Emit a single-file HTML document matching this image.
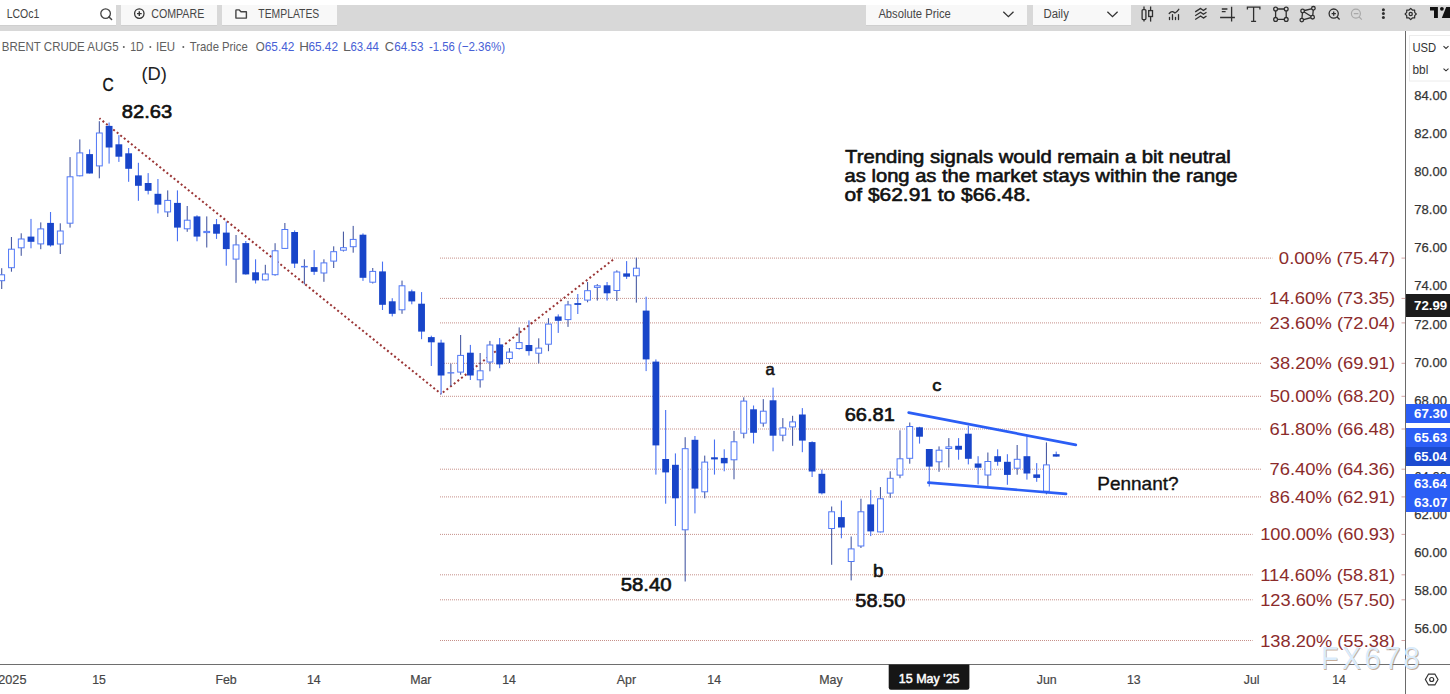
<!DOCTYPE html>
<html><head><meta charset="utf-8"><title>Brent Crude chart</title>
<style>
html,body{margin:0;padding:0;background:#fff;width:1450px;height:694px;overflow:hidden}
svg{display:block;position:absolute;left:0;top:0}
text{font-family:"Liberation Sans", sans-serif}
</style></head><body>
<svg width="1450" height="694" viewBox="0 0 1450 694">
<rect x="0" y="5" width="1450" height="26" fill="#d8d8d8"/><rect x="0" y="0" width="116" height="25" fill="#ffffff"/><rect x="121" y="5" width="96" height="20" fill="#f8f8f8"/><rect x="222" y="5" width="115" height="20" fill="#f8f8f8"/><rect x="866" y="5" width="161" height="20" fill="#f8f8f8"/><rect x="1033" y="5" width="98" height="20" fill="#f8f8f8"/><rect x="0" y="25" width="116" height="1" fill="#cfcfcf"/><rect x="121" y="25" width="96" height="1" fill="#cfcfcf"/><rect x="222" y="25" width="115" height="1" fill="#cfcfcf"/><rect x="866" y="25" width="161" height="1" fill="#cfcfcf"/><rect x="1033" y="25" width="98" height="1" fill="#cfcfcf"/><text x="6.64" y="18.00" font-size="12" fill="#444" textLength="32.67" lengthAdjust="spacingAndGlyphs">LCOc1</text><circle cx="105.6" cy="13.6" r="4.8" fill="none" stroke="#444" stroke-width="1.3"/><line x1="109" y1="17" x2="111.6" y2="19.5" stroke="#444" stroke-width="1.5" stroke-linecap="round"/><circle cx="139.3" cy="13.6" r="4.7" fill="none" stroke="#333" stroke-width="1.3"/><path d="M137 13.6H141.7M139.3 11.2V16" stroke="#333" stroke-width="1.4"/><text x="151.27" y="18.00" font-size="12" fill="#464646" textLength="52.98" lengthAdjust="spacingAndGlyphs">COMPARE</text><path d="M235.9 18.1V10.5Q235.9 9.9 236.5 9.9H239.3L241 11.7H246.2Q246.4 11.7 246.4 12.1V18.1Z" fill="none" stroke="#444" stroke-width="1.4" stroke-linejoin="round"/><text x="258.37" y="18.00" font-size="12" fill="#464646" textLength="60.90" lengthAdjust="spacingAndGlyphs">TEMPLATES</text><text x="878.38" y="18.00" font-size="12" fill="#464646" textLength="72.42" lengthAdjust="spacingAndGlyphs">Absolute Price</text><path d="M1003.3 11.8L1008.4 16.6L1013.5 11.8" fill="none" stroke="#333" stroke-width="1.3"/><text x="1043.57" y="18.00" font-size="12" fill="#464646" textLength="25.25" lengthAdjust="spacingAndGlyphs">Daily</text><path d="M1107.4 11.8L1112.5 16.6L1117.6 11.8" fill="none" stroke="#333" stroke-width="1.3"/><rect x="1142.1" y="9.6" width="3.8" height="10" rx="1" stroke-width="1.3" fill="none" stroke="#2f2f2f"/><line x1="1144" y1="6.5" x2="1144" y2="9.6" stroke-width="1.3" fill="none" stroke="#2f2f2f"/><line x1="1144" y1="19.6" x2="1144" y2="21.5" stroke-width="1.3" fill="none" stroke="#2f2f2f"/><rect x="1148.7" y="10.6" width="3.8" height="5.9" stroke-width="1.3" fill="none" stroke="#2f2f2f"/><line x1="1150.6" y1="6.5" x2="1150.6" y2="10.6" stroke-width="1.3" fill="none" stroke="#2f2f2f"/><line x1="1150.6" y1="16.5" x2="1150.6" y2="21.6" stroke-width="1.3" fill="none" stroke="#2f2f2f"/><path d="M1169.2 13.5Q1171 11.3 1172.4 11.6T1175 13Q1176.5 12.4 1178.8 9.3" stroke-width="1.3" fill="none" stroke="#2f2f2f" stroke-linecap="round"/><path d="M1169.5 17.3V19.5M1172.5 14.6V19.5M1175.5 17.3V19.5M1178.5 14.6V19.5" stroke-width="1.3" fill="none" stroke="#2f2f2f" stroke-linecap="round" stroke-width="1.4"/><path d="M1195.2 11.9L1200.6 8.4L1203.4 10.5L1206.5 8.4" stroke-width="1.3" fill="none" stroke="#2f2f2f" stroke-linejoin="round"/><path d="M1195.2 15.7L1200.6 12.2L1203.4 14.3L1206.5 12.2" stroke-width="1.3" fill="none" stroke="#2f2f2f" stroke-linejoin="round"/><path d="M1195.2 19.5L1200.6 16.0L1203.4 18.1L1206.5 16.0" stroke-width="1.3" fill="none" stroke="#2f2f2f" stroke-linejoin="round"/><path d="M1221.8 9H1227.4M1221.8 11.7H1225.6M1220.1 17.5H1234.9M1231.6 6.8V21.5" stroke-width="1.3" fill="none" stroke="#2f2f2f"/><path d="M1247.4 9.6V7.1H1259.9V9.6M1253.6 7.1V21.3M1251.1 21.3H1256.1" stroke-width="1.3" fill="none" stroke="#2f2f2f"/><path d="M1277.6 9H1284.2M1277.6 19.4H1284.2M1275.6 11V17.4M1286.2 11V17.4" stroke-width="1.3" fill="none" stroke="#2f2f2f"/><circle cx="1275.6" cy="9" r="1.9" stroke-width="1.3" fill="none" stroke="#2f2f2f"/><circle cx="1286.2" cy="9" r="1.9" stroke-width="1.3" fill="none" stroke="#2f2f2f"/><circle cx="1275.6" cy="19.4" r="1.9" stroke-width="1.3" fill="none" stroke="#2f2f2f"/><circle cx="1286.2" cy="19.4" r="1.9" stroke-width="1.3" fill="none" stroke="#2f2f2f"/><path d="M1302.6 11L1313.4 8.3L1312.6 17.2L1301.8 20.1ZM1302.6 11L1312.6 17.2" stroke-width="1.3" fill="none" stroke="#2f2f2f"/><circle cx="1302.6" cy="11" r="1.8" fill="#d8d8d8" stroke="#2f2f2f" stroke-width="1.3"/><circle cx="1313.4" cy="8.3" r="1.8" fill="#d8d8d8" stroke="#2f2f2f" stroke-width="1.3"/><circle cx="1312.6" cy="17.2" r="1.8" fill="#d8d8d8" stroke="#2f2f2f" stroke-width="1.3"/><circle cx="1301.8" cy="20.1" r="1.8" fill="#d8d8d8" stroke="#2f2f2f" stroke-width="1.3"/><circle cx="1333.7" cy="13.6" r="4.6" stroke-width="1.3" fill="none" stroke="#2f2f2f"/><path d="M1331.6 13.6H1335.9M1333.7 11.5V15.8M1337.1 17L1339.6 19.5" stroke-width="1.3" fill="none" stroke="#2f2f2f" stroke-width="1.4"/><circle cx="1355.9" cy="13.6" r="4.5" fill="none" stroke="#a9a9a9" stroke-width="1.2"/><path d="M1353.8 13.6H1358.4M1359.2 17L1361.8 19.6" fill="none" stroke="#a9a9a9" stroke-width="1.2"/><circle cx="1383.4" cy="9.7" r="1.5" fill="#2f2f2f"/><circle cx="1383.4" cy="13.6" r="1.5" fill="#2f2f2f"/><circle cx="1383.4" cy="17.6" r="1.5" fill="#2f2f2f"/><path d="M1410.70 8.40 L1412.35 10.03 L1414.66 10.04 L1414.67 12.35 L1416.30 14.00 L1414.67 15.65 L1414.66 17.96 L1412.35 17.97 L1410.70 19.60 L1409.05 17.97 L1406.74 17.96 L1406.73 15.65 L1405.10 14.00 L1406.73 12.35 L1406.74 10.04 L1409.05 10.03Z" fill="none" stroke="#2f2f2f" stroke-width="1.2" stroke-linejoin="round"/><circle cx="1410.7" cy="14" r="1.6" stroke-width="1.3" fill="none" stroke="#2f2f2f"/><path d="M1430 6.9H1437.9V17.9H1434V10.6H1430Z" fill="#111"/><circle cx="1441.9" cy="8.8" r="1.9" fill="#111"/><path d="M1441.8 17.9L1446.2 6.9H1451V17.9Z" fill="#111"/><text x="1.86" y="51.00" font-size="12.8" fill="#606060" textLength="116.82" lengthAdjust="spacingAndGlyphs">BRENT CRUDE AUG5</text><circle cx="123.8" cy="47" r="1" fill="#606060"/><text x="130.19" y="51.00" font-size="12.8" fill="#606060" textLength="13.62" lengthAdjust="spacingAndGlyphs">1D</text><circle cx="150.3" cy="47" r="1" fill="#606060"/><text x="155.94" y="51.00" font-size="12.8" fill="#606060" textLength="19.15" lengthAdjust="spacingAndGlyphs">IEU</text><circle cx="183.3" cy="47" r="1" fill="#606060"/><text x="189.85" y="51.00" font-size="12.8" fill="#606060" textLength="57.95" lengthAdjust="spacingAndGlyphs">Trade Price</text><text x="255.85" y="51.00" font-size="12.8" fill="#606060" textLength="9.00" lengthAdjust="spacingAndGlyphs">O</text><text x="264.70" y="51.00" font-size="12.8" fill="#4760d6" textLength="29.70" lengthAdjust="spacingAndGlyphs">65.42</text><text x="299.20" y="51.00" font-size="12.8" fill="#606060" textLength="9.70" lengthAdjust="spacingAndGlyphs">H</text><text x="308.40" y="51.00" font-size="12.8" fill="#4760d6" textLength="29.60" lengthAdjust="spacingAndGlyphs">65.42</text><text x="343.03" y="51.00" font-size="12.8" fill="#606060" textLength="7.95" lengthAdjust="spacingAndGlyphs">L</text><text x="350.42" y="51.00" font-size="12.8" fill="#4760d6" textLength="28.51" lengthAdjust="spacingAndGlyphs">63.44</text><text x="384.85" y="51.00" font-size="12.8" fill="#606060" textLength="9.24" lengthAdjust="spacingAndGlyphs">C</text><text x="394.21" y="51.00" font-size="12.8" fill="#4760d6" textLength="29.21" lengthAdjust="spacingAndGlyphs">64.53</text><text x="428.90" y="51.00" font-size="12.8" fill="#4760d6" textLength="25.90" lengthAdjust="spacingAndGlyphs">-1.56</text><text x="457.78" y="51.00" font-size="12.8" fill="#4760d6" textLength="47.44" lengthAdjust="spacingAndGlyphs">(−2.36%)</text><rect x="1405" y="31" width="1" height="663" fill="#6a6a6a"/><rect x="1409.5" y="35.5" width="41" height="45.5" fill="#fff" stroke="#ececec" stroke-width="1"/><text x="1412.43" y="52.00" font-size="12" fill="#333" textLength="23.70" lengthAdjust="spacingAndGlyphs">USD</text><text x="1412.54" y="74.40" font-size="12" fill="#333" textLength="15.75" lengthAdjust="spacingAndGlyphs">bbl</text><path d="M1443.5 46.2L1446 48.4L1448.5 46.2" fill="none" stroke="#333" stroke-width="1.1"/><path d="M1443.5 68.6L1446 70.8L1448.5 68.6" fill="none" stroke="#333" stroke-width="1.1"/><text x="1414.36" y="100.18" font-size="13.4" fill="#333" textLength="32.63" lengthAdjust="spacingAndGlyphs" stroke="#333" stroke-width="0.25" stroke-linejoin="round">84.00</text><text x="1414.36" y="138.24" font-size="13.4" fill="#333" textLength="32.63" lengthAdjust="spacingAndGlyphs" stroke="#333" stroke-width="0.25" stroke-linejoin="round">82.00</text><text x="1414.36" y="176.30" font-size="13.4" fill="#333" textLength="32.63" lengthAdjust="spacingAndGlyphs" stroke="#333" stroke-width="0.25" stroke-linejoin="round">80.00</text><text x="1414.25" y="214.36" font-size="13.4" fill="#333" textLength="32.73" lengthAdjust="spacingAndGlyphs" stroke="#333" stroke-width="0.25" stroke-linejoin="round">78.00</text><text x="1414.25" y="252.42" font-size="13.4" fill="#333" textLength="32.73" lengthAdjust="spacingAndGlyphs" stroke="#333" stroke-width="0.25" stroke-linejoin="round">76.00</text><text x="1414.25" y="290.48" font-size="13.4" fill="#333" textLength="32.73" lengthAdjust="spacingAndGlyphs" stroke="#333" stroke-width="0.25" stroke-linejoin="round">74.00</text><text x="1414.25" y="328.53" font-size="13.4" fill="#333" textLength="32.73" lengthAdjust="spacingAndGlyphs" stroke="#333" stroke-width="0.25" stroke-linejoin="round">72.00</text><text x="1414.25" y="366.60" font-size="13.4" fill="#333" textLength="32.73" lengthAdjust="spacingAndGlyphs" stroke="#333" stroke-width="0.25" stroke-linejoin="round">70.00</text><text x="1414.26" y="404.65" font-size="13.4" fill="#333" textLength="32.72" lengthAdjust="spacingAndGlyphs" stroke="#333" stroke-width="0.25" stroke-linejoin="round">68.00</text><text x="1414.26" y="442.72" font-size="13.4" fill="#333" textLength="32.72" lengthAdjust="spacingAndGlyphs" stroke="#333" stroke-width="0.25" stroke-linejoin="round">66.00</text><text x="1414.26" y="480.77" font-size="13.4" fill="#333" textLength="32.72" lengthAdjust="spacingAndGlyphs" stroke="#333" stroke-width="0.25" stroke-linejoin="round">64.00</text><text x="1414.26" y="518.84" font-size="13.4" fill="#333" textLength="32.72" lengthAdjust="spacingAndGlyphs" stroke="#333" stroke-width="0.25" stroke-linejoin="round">62.00</text><text x="1414.26" y="556.89" font-size="13.4" fill="#333" textLength="32.72" lengthAdjust="spacingAndGlyphs" stroke="#333" stroke-width="0.25" stroke-linejoin="round">60.00</text><text x="1414.40" y="594.96" font-size="13.4" fill="#333" textLength="32.58" lengthAdjust="spacingAndGlyphs" stroke="#333" stroke-width="0.25" stroke-linejoin="round">58.00</text><text x="1414.40" y="633.01" font-size="13.4" fill="#333" textLength="32.58" lengthAdjust="spacingAndGlyphs" stroke="#333" stroke-width="0.25" stroke-linejoin="round">56.00</text><rect x="0" y="664" width="1450" height="1" fill="#6e6e6e"/><text x="-1.74" y="683.90" font-size="13" fill="#464646" textLength="28.17" lengthAdjust="spacingAndGlyphs" stroke="#464646" stroke-width="0.2" stroke-linejoin="round">2025</text><text x="92.25" y="683.90" font-size="13" fill="#464646" textLength="13.68" lengthAdjust="spacingAndGlyphs" stroke="#464646" stroke-width="0.2" stroke-linejoin="round">15</text><text x="215.39" y="683.90" font-size="13" fill="#464646" textLength="21.32" lengthAdjust="spacingAndGlyphs" stroke="#464646" stroke-width="0.2" stroke-linejoin="round">Feb</text><text x="306.97" y="683.90" font-size="13" fill="#464646" textLength="13.68" lengthAdjust="spacingAndGlyphs" stroke="#464646" stroke-width="0.2" stroke-linejoin="round">14</text><text x="410.14" y="683.90" font-size="13" fill="#464646" textLength="21.31" lengthAdjust="spacingAndGlyphs" stroke="#464646" stroke-width="0.2" stroke-linejoin="round">Mar</text><text x="502.27" y="683.90" font-size="13" fill="#464646" textLength="13.68" lengthAdjust="spacingAndGlyphs" stroke="#464646" stroke-width="0.2" stroke-linejoin="round">14</text><text x="616.77" y="683.90" font-size="13" fill="#464646" textLength="19.25" lengthAdjust="spacingAndGlyphs" stroke="#464646" stroke-width="0.2" stroke-linejoin="round">Apr</text><text x="707.37" y="683.90" font-size="13" fill="#464646" textLength="13.68" lengthAdjust="spacingAndGlyphs" stroke="#464646" stroke-width="0.2" stroke-linejoin="round">14</text><text x="819.20" y="683.90" font-size="13" fill="#464646" textLength="23.41" lengthAdjust="spacingAndGlyphs" stroke="#464646" stroke-width="0.2" stroke-linejoin="round">May</text><text x="1036.73" y="683.90" font-size="13" fill="#464646" textLength="19.94" lengthAdjust="spacingAndGlyphs" stroke="#464646" stroke-width="0.2" stroke-linejoin="round">Jun</text><text x="1126.96" y="683.90" font-size="13" fill="#464646" textLength="13.68" lengthAdjust="spacingAndGlyphs" stroke="#464646" stroke-width="0.2" stroke-linejoin="round">13</text><text x="1243.83" y="683.90" font-size="13" fill="#464646" textLength="15.77" lengthAdjust="spacingAndGlyphs" stroke="#464646" stroke-width="0.2" stroke-linejoin="round">Jul</text><text x="1332.17" y="683.90" font-size="13" fill="#464646" textLength="13.68" lengthAdjust="spacingAndGlyphs" stroke="#464646" stroke-width="0.2" stroke-linejoin="round">14</text><text x="1278.88" y="264.10" font-size="16.5" fill="#8b2b2b" textLength="116.27" lengthAdjust="spacingAndGlyphs">0.00% (75.47)</text><text x="1268.99" y="304.40" font-size="16.5" fill="#8b2b2b" textLength="126.15" lengthAdjust="spacingAndGlyphs">14.60% (73.35)</text><text x="1269.48" y="328.90" font-size="16.5" fill="#8b2b2b" textLength="125.66" lengthAdjust="spacingAndGlyphs">23.60% (72.04)</text><text x="1269.70" y="369.30" font-size="16.5" fill="#8b2b2b" textLength="125.44" lengthAdjust="spacingAndGlyphs">38.20% (69.91)</text><text x="1269.67" y="402.30" font-size="16.5" fill="#8b2b2b" textLength="125.47" lengthAdjust="spacingAndGlyphs">50.00% (68.20)</text><text x="1269.47" y="435.00" font-size="16.5" fill="#8b2b2b" textLength="125.67" lengthAdjust="spacingAndGlyphs">61.80% (66.48)</text><text x="1269.46" y="475.20" font-size="16.5" fill="#8b2b2b" textLength="125.68" lengthAdjust="spacingAndGlyphs">76.40% (64.36)</text><text x="1269.60" y="502.90" font-size="16.5" fill="#8b2b2b" textLength="125.54" lengthAdjust="spacingAndGlyphs">86.40% (62.91)</text><text x="1260.21" y="540.40" font-size="16.5" fill="#8b2b2b" textLength="134.92" lengthAdjust="spacingAndGlyphs">100.00% (60.93)</text><text x="1260.21" y="580.80" font-size="16.5" fill="#8b2b2b" textLength="134.92" lengthAdjust="spacingAndGlyphs">114.60% (58.81)</text><text x="1260.21" y="605.80" font-size="16.5" fill="#8b2b2b" textLength="134.92" lengthAdjust="spacingAndGlyphs">123.60% (57.50)</text><text x="1260.21" y="646.50" font-size="16.5" fill="#8b2b2b" textLength="134.92" lengthAdjust="spacingAndGlyphs">138.20% (55.38)</text><text x="845.05" y="162.90" font-size="18.6" fill="#111" textLength="385.81" lengthAdjust="spacingAndGlyphs" stroke="#111" stroke-width="0.6" stroke-linejoin="round">Trending signals would remain a bit neutral</text><text x="844.64" y="181.70" font-size="18.6" fill="#111" textLength="392.95" lengthAdjust="spacingAndGlyphs" stroke="#111" stroke-width="0.6" stroke-linejoin="round">as long as the market stays within the range</text><text x="844.62" y="200.50" font-size="18.6" fill="#111" textLength="186.29" lengthAdjust="spacingAndGlyphs" stroke="#111" stroke-width="0.6" stroke-linejoin="round">of $62.91 to $66.48.</text><text x="102.39" y="90.62" font-size="18" fill="#111" textLength="11.23" lengthAdjust="spacingAndGlyphs" stroke="#111" stroke-width="0.35" stroke-linejoin="round">C</text><text x="141.46" y="80.00" font-size="18.5" fill="#222" textLength="25.48" lengthAdjust="spacingAndGlyphs">(D)</text><text x="121.83" y="118.30" font-size="18" fill="#111" textLength="50.36" lengthAdjust="spacingAndGlyphs" stroke="#111" stroke-width="0.6" stroke-linejoin="round">82.63</text><text x="765.50" y="374.60" font-size="16.5" fill="#111" textLength="9.20" lengthAdjust="spacingAndGlyphs" stroke="#111" stroke-width="0.6" stroke-linejoin="round">a</text><text x="932.32" y="391.40" font-size="16.5" fill="#111" textLength="9.16" lengthAdjust="spacingAndGlyphs" stroke="#111" stroke-width="0.6" stroke-linejoin="round">c</text><text x="844.68" y="420.50" font-size="18" fill="#111" textLength="50.09" lengthAdjust="spacingAndGlyphs" stroke="#111" stroke-width="0.6" stroke-linejoin="round">66.81</text><text x="620.68" y="591.40" font-size="18" fill="#111" textLength="51.01" lengthAdjust="spacingAndGlyphs" stroke="#111" stroke-width="0.6" stroke-linejoin="round">58.40</text><text x="872.98" y="577.00" font-size="18" fill="#111" textLength="10.51" lengthAdjust="spacingAndGlyphs" stroke="#111" stroke-width="0.6" stroke-linejoin="round">b</text><text x="855.30" y="607.30" font-size="18" fill="#111" textLength="49.98" lengthAdjust="spacingAndGlyphs" stroke="#111" stroke-width="0.6" stroke-linejoin="round">58.50</text><text x="1097.32" y="489.62" font-size="18.5" fill="#111" textLength="81.21" lengthAdjust="spacingAndGlyphs" stroke="#111" stroke-width="0.35" stroke-linejoin="round">Pennant?</text>
<g><line x1="440" y1="258.1" x2="1272.4" y2="258.1" stroke="rgba(160,70,60,0.6)" stroke-width="1" stroke-dasharray="1 1"/><line x1="440" y1="298.4" x2="1261.5" y2="298.4" stroke="rgba(160,70,60,0.6)" stroke-width="1" stroke-dasharray="1 1"/><line x1="440" y1="322.9" x2="1261.5" y2="322.9" stroke="rgba(160,70,60,0.6)" stroke-width="1" stroke-dasharray="1 1"/><line x1="440" y1="363.3" x2="1261.5" y2="363.3" stroke="rgba(160,70,60,0.6)" stroke-width="1" stroke-dasharray="1 1"/><line x1="440" y1="396.3" x2="1261.5" y2="396.3" stroke="rgba(160,70,60,0.6)" stroke-width="1" stroke-dasharray="1 1"/><line x1="440" y1="429.0" x2="1261.5" y2="429.0" stroke="rgba(160,70,60,0.6)" stroke-width="1" stroke-dasharray="1 1"/><line x1="440" y1="469.2" x2="1261.5" y2="469.2" stroke="rgba(160,70,60,0.6)" stroke-width="1" stroke-dasharray="1 1"/><line x1="440" y1="496.9" x2="1261.5" y2="496.9" stroke="rgba(160,70,60,0.6)" stroke-width="1" stroke-dasharray="1 1"/><line x1="440" y1="534.4" x2="1252.6" y2="534.4" stroke="rgba(160,70,60,0.6)" stroke-width="1" stroke-dasharray="1 1"/><line x1="440" y1="574.8" x2="1252.6" y2="574.8" stroke="rgba(160,70,60,0.6)" stroke-width="1" stroke-dasharray="1 1"/><line x1="440" y1="599.8" x2="1252.6" y2="599.8" stroke="rgba(160,70,60,0.6)" stroke-width="1" stroke-dasharray="1 1"/><line x1="440" y1="640.5" x2="1252.6" y2="640.5" stroke="rgba(160,70,60,0.6)" stroke-width="1" stroke-dasharray="1 1"/><line x1="99.4" y1="118.3" x2="441.1" y2="393.9" stroke="#9a3535" stroke-width="2" stroke-dasharray="2 2.57" stroke-dashoffset="0.51"/><line x1="441.1" y1="393.9" x2="615" y2="258.2" stroke="#9a3535" stroke-width="2" stroke-dasharray="2 2.65" stroke-dashoffset="2.45"/><rect x="1.15" y="268.2" width="1.1" height="20.8" fill="#4a5ca4"/><rect x="-1.20" y="274.8" width="5.8" height="5.9" fill="#fff" stroke="#5078f7" stroke-width="1"/><rect x="10.91" y="237.0" width="1.1" height="34.7" fill="#4a5ca4"/><rect x="8.56" y="249.2" width="5.8" height="18.5" fill="#fff" stroke="#5078f7" stroke-width="1"/><rect x="20.68" y="233.3" width="1.1" height="22.5" fill="#4a5ca4"/><rect x="18.33" y="239.0" width="5.8" height="8.8" fill="#fff" stroke="#5078f7" stroke-width="1"/><rect x="30.44" y="218.9" width="1.1" height="29.4" fill="#4a72f2"/><rect x="27.59" y="236.6" width="6.8" height="5.2" fill="#1845c9"/><rect x="40.21" y="222.4" width="1.1" height="26.8" fill="#4a5ca4"/><rect x="37.86" y="228.9" width="5.8" height="15.0" fill="#fff" stroke="#5078f7" stroke-width="1"/><rect x="49.97" y="212.0" width="1.1" height="34.6" fill="#4a72f2"/><rect x="47.12" y="222.9" width="6.8" height="22.5" fill="#1845c9"/><rect x="59.73" y="223.3" width="1.1" height="30.7" fill="#4a5ca4"/><rect x="57.38" y="231.0" width="5.8" height="13.0" fill="#fff" stroke="#5078f7" stroke-width="1"/><rect x="69.50" y="157.1" width="1.1" height="70.5" fill="#4a5ca4"/><rect x="67.15" y="176.8" width="5.8" height="46.4" fill="#fff" stroke="#5078f7" stroke-width="1"/><rect x="79.26" y="139.4" width="1.1" height="36.9" fill="#4a5ca4"/><rect x="76.91" y="152.9" width="5.8" height="22.9" fill="#fff" stroke="#5078f7" stroke-width="1"/><rect x="89.03" y="149.4" width="1.1" height="24.1" fill="#4a72f2"/><rect x="86.18" y="154.1" width="6.8" height="19.4" fill="#1845c9"/><rect x="98.79" y="121.2" width="1.1" height="57.1" fill="#4a5ca4"/><rect x="96.44" y="133.0" width="5.8" height="32.9" fill="#fff" stroke="#5078f7" stroke-width="1"/><rect x="108.55" y="122.5" width="1.1" height="41.1" fill="#4a72f2"/><rect x="105.70" y="125.9" width="6.8" height="21.6" fill="#1845c9"/><rect x="118.32" y="135.1" width="1.1" height="26.8" fill="#4a72f2"/><rect x="115.47" y="144.3" width="6.8" height="12.4" fill="#1845c9"/><rect x="128.08" y="148.0" width="1.1" height="33.8" fill="#4a72f2"/><rect x="125.23" y="153.3" width="6.8" height="15.5" fill="#1845c9"/><rect x="137.85" y="162.8" width="1.1" height="38.0" fill="#4a72f2"/><rect x="135.00" y="175.4" width="6.8" height="10.4" fill="#1845c9"/><rect x="147.61" y="173.1" width="1.1" height="21.3" fill="#4a72f2"/><rect x="144.76" y="183.0" width="6.8" height="7.8" fill="#1845c9"/><rect x="157.37" y="179.0" width="1.1" height="34.4" fill="#4a72f2"/><rect x="154.52" y="193.8" width="6.8" height="10.9" fill="#1845c9"/><rect x="167.14" y="190.4" width="1.1" height="26.6" fill="#4a5ca4"/><rect x="164.79" y="200.4" width="5.8" height="11.5" fill="#fff" stroke="#5078f7" stroke-width="1"/><rect x="176.90" y="190.4" width="1.1" height="50.9" fill="#4a72f2"/><rect x="174.05" y="202.9" width="6.8" height="24.7" fill="#1845c9"/><rect x="186.67" y="206.0" width="1.1" height="25.8" fill="#4a5ca4"/><rect x="184.32" y="220.2" width="5.8" height="8.6" fill="#fff" stroke="#5078f7" stroke-width="1"/><rect x="196.43" y="215.3" width="1.1" height="26.0" fill="#4a72f2"/><rect x="193.58" y="216.4" width="6.8" height="20.2" fill="#1845c9"/><rect x="206.19" y="216.4" width="1.1" height="31.1" fill="#4a5ca4"/><rect x="203.84" y="231.4" width="5.8" height="1.2" fill="#fff" stroke="#5078f7" stroke-width="1"/><rect x="215.96" y="219.0" width="1.1" height="19.9" fill="#4a72f2"/><rect x="213.11" y="224.2" width="6.8" height="9.5" fill="#1845c9"/><rect x="225.72" y="221.6" width="1.1" height="44.1" fill="#4a72f2"/><rect x="222.87" y="232.6" width="6.8" height="16.5" fill="#1845c9"/><rect x="235.49" y="235.0" width="1.1" height="47.8" fill="#4a5ca4"/><rect x="233.14" y="244.9" width="5.8" height="14.2" fill="#fff" stroke="#5078f7" stroke-width="1"/><rect x="245.25" y="241.0" width="1.1" height="33.6" fill="#4a72f2"/><rect x="242.40" y="243.1" width="6.8" height="31.3" fill="#1845c9"/><rect x="255.01" y="259.3" width="1.1" height="24.2" fill="#4a72f2"/><rect x="252.16" y="272.3" width="6.8" height="8.1" fill="#1845c9"/><rect x="264.78" y="264.8" width="1.1" height="15.6" fill="#4a5ca4"/><rect x="262.43" y="274.0" width="5.8" height="5.9" fill="#fff" stroke="#5078f7" stroke-width="1"/><rect x="274.54" y="243.2" width="1.1" height="32.5" fill="#4a5ca4"/><rect x="272.19" y="250.8" width="5.8" height="23.9" fill="#fff" stroke="#5078f7" stroke-width="1"/><rect x="284.31" y="223.0" width="1.1" height="25.9" fill="#4a5ca4"/><rect x="281.96" y="229.5" width="5.8" height="18.9" fill="#fff" stroke="#5078f7" stroke-width="1"/><rect x="294.07" y="230.4" width="1.1" height="37.6" fill="#4a72f2"/><rect x="291.22" y="232.0" width="6.8" height="31.6" fill="#1845c9"/><rect x="303.83" y="259.3" width="1.1" height="25.1" fill="#4a5ca4"/><rect x="301.48" y="266.4" width="5.8" height="0.5" fill="#fff" stroke="#5078f7" stroke-width="1"/><rect x="313.60" y="250.1" width="1.1" height="24.8" fill="#4a72f2"/><rect x="310.75" y="267.1" width="6.8" height="4.7" fill="#1845c9"/><rect x="323.36" y="259.3" width="1.1" height="22.5" fill="#4a5ca4"/><rect x="321.01" y="262.9" width="5.8" height="10.1" fill="#fff" stroke="#5078f7" stroke-width="1"/><rect x="333.13" y="246.3" width="1.1" height="21.7" fill="#4a5ca4"/><rect x="330.78" y="251.7" width="5.8" height="9.4" fill="#fff" stroke="#5078f7" stroke-width="1"/><rect x="342.89" y="231.6" width="1.1" height="19.9" fill="#4a5ca4"/><rect x="340.54" y="247.7" width="5.8" height="2.5" fill="#fff" stroke="#5078f7" stroke-width="1"/><rect x="352.65" y="225.9" width="1.1" height="26.8" fill="#4a5ca4"/><rect x="350.30" y="239.4" width="5.8" height="7.3" fill="#fff" stroke="#5078f7" stroke-width="1"/><rect x="362.42" y="233.4" width="1.1" height="47.5" fill="#4a72f2"/><rect x="359.57" y="234.7" width="6.8" height="43.1" fill="#1845c9"/><rect x="372.18" y="268.0" width="1.1" height="15.5" fill="#4a5ca4"/><rect x="369.83" y="271.4" width="5.8" height="10.8" fill="#fff" stroke="#5078f7" stroke-width="1"/><rect x="381.95" y="261.6" width="1.1" height="48.4" fill="#4a72f2"/><rect x="379.10" y="271.4" width="6.8" height="33.4" fill="#1845c9"/><rect x="391.71" y="298.2" width="1.1" height="18.2" fill="#4a72f2"/><rect x="388.86" y="301.3" width="6.8" height="12.5" fill="#1845c9"/><rect x="401.47" y="280.6" width="1.1" height="33.2" fill="#4a5ca4"/><rect x="399.12" y="285.8" width="5.8" height="24.0" fill="#fff" stroke="#5078f7" stroke-width="1"/><rect x="411.24" y="289.6" width="1.1" height="14.7" fill="#4a72f2"/><rect x="408.39" y="291.3" width="6.8" height="10.1" fill="#1845c9"/><rect x="421.00" y="292.1" width="1.1" height="47.1" fill="#4a72f2"/><rect x="418.15" y="303.7" width="6.8" height="27.9" fill="#1845c9"/><rect x="430.77" y="335.7" width="1.1" height="30.3" fill="#4a72f2"/><rect x="427.92" y="337.1" width="6.8" height="5.2" fill="#1845c9"/><rect x="440.53" y="339.7" width="1.1" height="54.8" fill="#4a72f2"/><rect x="437.68" y="342.6" width="6.8" height="32.9" fill="#1845c9"/><rect x="450.29" y="363.6" width="1.1" height="22.3" fill="#4a5ca4"/><rect x="447.94" y="372.7" width="5.8" height="0.3" fill="#fff" stroke="#5078f7" stroke-width="1"/><rect x="460.06" y="335.0" width="1.1" height="39.8" fill="#4a5ca4"/><rect x="457.71" y="355.4" width="5.8" height="16.7" fill="#fff" stroke="#5078f7" stroke-width="1"/><rect x="469.82" y="344.9" width="1.1" height="35.1" fill="#4a72f2"/><rect x="466.97" y="352.7" width="6.8" height="22.8" fill="#1845c9"/><rect x="479.59" y="353.0" width="1.1" height="34.6" fill="#4a5ca4"/><rect x="477.24" y="370.8" width="5.8" height="9.0" fill="#fff" stroke="#5078f7" stroke-width="1"/><rect x="489.35" y="340.9" width="1.1" height="30.4" fill="#4a5ca4"/><rect x="487.00" y="345.0" width="5.8" height="17.0" fill="#fff" stroke="#5078f7" stroke-width="1"/><rect x="499.11" y="338.0" width="1.1" height="30.2" fill="#4a72f2"/><rect x="496.26" y="344.4" width="6.8" height="20.0" fill="#1845c9"/><rect x="508.88" y="348.1" width="1.1" height="14.9" fill="#4a5ca4"/><rect x="506.53" y="352.1" width="5.8" height="6.4" fill="#fff" stroke="#5078f7" stroke-width="1"/><rect x="518.64" y="327.4" width="1.1" height="22.1" fill="#4a5ca4"/><rect x="516.29" y="342.6" width="5.8" height="5.9" fill="#fff" stroke="#5078f7" stroke-width="1"/><rect x="528.41" y="320.4" width="1.1" height="35.2" fill="#4a72f2"/><rect x="525.56" y="345.0" width="6.8" height="6.1" fill="#1845c9"/><rect x="538.17" y="338.3" width="1.1" height="25.2" fill="#4a5ca4"/><rect x="535.82" y="348.1" width="5.8" height="5.1" fill="#fff" stroke="#5078f7" stroke-width="1"/><rect x="547.93" y="318.2" width="1.1" height="33.0" fill="#4a5ca4"/><rect x="545.58" y="324.1" width="5.8" height="20.1" fill="#fff" stroke="#5078f7" stroke-width="1"/><rect x="557.70" y="314.4" width="1.1" height="18.5" fill="#4a72f2"/><rect x="554.85" y="316.5" width="6.8" height="4.3" fill="#1845c9"/><rect x="567.46" y="300.9" width="1.1" height="26.0" fill="#4a5ca4"/><rect x="565.11" y="304.9" width="5.8" height="14.7" fill="#fff" stroke="#5078f7" stroke-width="1"/><rect x="577.23" y="294.0" width="1.1" height="20.0" fill="#4a72f2"/><rect x="574.38" y="303.1" width="6.8" height="1.8" fill="#1845c9"/><rect x="586.99" y="282.0" width="1.1" height="20.3" fill="#4a5ca4"/><rect x="584.64" y="290.7" width="5.8" height="9.4" fill="#fff" stroke="#5078f7" stroke-width="1"/><rect x="596.75" y="284.1" width="1.1" height="16.5" fill="#4a5ca4"/><rect x="594.40" y="285.8" width="5.8" height="1.6" fill="#fff" stroke="#5078f7" stroke-width="1"/><rect x="606.52" y="282.0" width="1.1" height="18.6" fill="#4a72f2"/><rect x="603.67" y="285.3" width="6.8" height="8.0" fill="#1845c9"/><rect x="616.28" y="270.3" width="1.1" height="30.6" fill="#4a5ca4"/><rect x="613.93" y="272.0" width="5.8" height="18.5" fill="#fff" stroke="#5078f7" stroke-width="1"/><rect x="626.05" y="261.1" width="1.1" height="17.8" fill="#4a72f2"/><rect x="623.20" y="273.4" width="6.8" height="3.3" fill="#1845c9"/><rect x="635.81" y="257.6" width="1.1" height="45.0" fill="#4a5ca4"/><rect x="633.46" y="268.2" width="5.8" height="7.6" fill="#fff" stroke="#5078f7" stroke-width="1"/><rect x="645.57" y="296.7" width="1.1" height="74.4" fill="#4a72f2"/><rect x="642.72" y="310.6" width="6.8" height="48.8" fill="#1845c9"/><rect x="655.34" y="359.4" width="1.1" height="115.2" fill="#4a72f2"/><rect x="652.49" y="361.6" width="6.8" height="83.8" fill="#1845c9"/><rect x="665.10" y="410.0" width="1.1" height="93.7" fill="#4a72f2"/><rect x="662.25" y="459.0" width="6.8" height="13.4" fill="#1845c9"/><rect x="674.87" y="453.4" width="1.1" height="72.6" fill="#4a72f2"/><rect x="672.02" y="464.8" width="6.8" height="33.5" fill="#1845c9"/><rect x="684.63" y="437.2" width="1.1" height="144.3" fill="#4a5ca4"/><rect x="682.28" y="448.7" width="5.8" height="81.1" fill="#fff" stroke="#5078f7" stroke-width="1"/><rect x="694.39" y="436.0" width="1.1" height="77.4" fill="#4a72f2"/><rect x="691.54" y="439.8" width="6.8" height="48.8" fill="#1845c9"/><rect x="704.16" y="455.6" width="1.1" height="42.7" fill="#4a5ca4"/><rect x="701.81" y="462.1" width="5.8" height="29.7" fill="#fff" stroke="#5078f7" stroke-width="1"/><rect x="713.92" y="439.5" width="1.1" height="35.1" fill="#4a72f2"/><rect x="711.07" y="457.3" width="6.8" height="2.1" fill="#1845c9"/><rect x="723.69" y="449.3" width="1.1" height="22.0" fill="#4a72f2"/><rect x="720.84" y="457.9" width="6.8" height="5.4" fill="#1845c9"/><rect x="733.45" y="430.9" width="1.1" height="48.4" fill="#4a5ca4"/><rect x="731.10" y="441.8" width="5.8" height="18.0" fill="#fff" stroke="#5078f7" stroke-width="1"/><rect x="743.21" y="397.3" width="1.1" height="41.0" fill="#4a5ca4"/><rect x="740.86" y="401.1" width="5.8" height="32.1" fill="#fff" stroke="#5078f7" stroke-width="1"/><rect x="752.98" y="405.5" width="1.1" height="38.0" fill="#4a72f2"/><rect x="750.13" y="409.3" width="6.8" height="23.5" fill="#1845c9"/><rect x="762.74" y="399.1" width="1.1" height="27.6" fill="#4a5ca4"/><rect x="760.39" y="411.2" width="5.8" height="11.9" fill="#fff" stroke="#5078f7" stroke-width="1"/><rect x="772.51" y="387.6" width="1.1" height="63.7" fill="#4a72f2"/><rect x="769.66" y="400.3" width="6.8" height="35.4" fill="#1845c9"/><rect x="782.27" y="418.1" width="1.1" height="23.2" fill="#4a5ca4"/><rect x="779.92" y="427.9" width="5.8" height="7.3" fill="#fff" stroke="#5078f7" stroke-width="1"/><rect x="792.03" y="415.8" width="1.1" height="30.0" fill="#4a5ca4"/><rect x="789.68" y="421.9" width="5.8" height="5.0" fill="#fff" stroke="#5078f7" stroke-width="1"/><rect x="801.80" y="408.1" width="1.1" height="44.1" fill="#4a72f2"/><rect x="798.95" y="414.5" width="6.8" height="26.1" fill="#1845c9"/><rect x="811.56" y="441.3" width="1.1" height="35.7" fill="#4a72f2"/><rect x="808.71" y="442.1" width="6.8" height="29.4" fill="#1845c9"/><rect x="821.33" y="469.6" width="1.1" height="24.8" fill="#4a72f2"/><rect x="818.48" y="473.8" width="6.8" height="19.5" fill="#1845c9"/><rect x="831.09" y="506.5" width="1.1" height="58.3" fill="#4a5ca4"/><rect x="828.74" y="511.8" width="5.8" height="16.7" fill="#fff" stroke="#5078f7" stroke-width="1"/><rect x="840.85" y="500.5" width="1.1" height="37.8" fill="#4a72f2"/><rect x="838.00" y="517.1" width="6.8" height="10.4" fill="#1845c9"/><rect x="850.62" y="536.5" width="1.1" height="43.9" fill="#4a5ca4"/><rect x="848.27" y="548.9" width="5.8" height="12.6" fill="#fff" stroke="#5078f7" stroke-width="1"/><rect x="860.38" y="498.7" width="1.1" height="49.3" fill="#4a5ca4"/><rect x="858.03" y="511.8" width="5.8" height="34.2" fill="#fff" stroke="#5078f7" stroke-width="1"/><rect x="870.15" y="490.1" width="1.1" height="46.0" fill="#4a72f2"/><rect x="867.30" y="504.4" width="6.8" height="27.0" fill="#1845c9"/><rect x="879.91" y="487.1" width="1.1" height="45.3" fill="#4a5ca4"/><rect x="877.56" y="498.8" width="5.8" height="33.1" fill="#fff" stroke="#5078f7" stroke-width="1"/><rect x="889.67" y="471.3" width="1.1" height="26.6" fill="#4a5ca4"/><rect x="887.32" y="478.3" width="5.8" height="14.8" fill="#fff" stroke="#5078f7" stroke-width="1"/><rect x="899.44" y="430.3" width="1.1" height="47.9" fill="#4a5ca4"/><rect x="897.09" y="458.8" width="5.8" height="16.3" fill="#fff" stroke="#5078f7" stroke-width="1"/><rect x="909.20" y="422.5" width="1.1" height="41.2" fill="#4a5ca4"/><rect x="906.85" y="426.5" width="5.8" height="31.8" fill="#fff" stroke="#5078f7" stroke-width="1"/><rect x="918.97" y="426.8" width="1.1" height="16.8" fill="#4a72f2"/><rect x="916.12" y="427.3" width="6.8" height="9.4" fill="#1845c9"/><rect x="928.73" y="449.0" width="1.1" height="37.5" fill="#4a72f2"/><rect x="925.88" y="449.0" width="6.8" height="17.6" fill="#1845c9"/><rect x="938.49" y="446.4" width="1.1" height="25.4" fill="#4a5ca4"/><rect x="936.14" y="450.2" width="5.8" height="11.6" fill="#fff" stroke="#5078f7" stroke-width="1"/><rect x="948.26" y="438.1" width="1.1" height="29.4" fill="#4a5ca4"/><rect x="945.91" y="446.9" width="5.8" height="1.6" fill="#fff" stroke="#5078f7" stroke-width="1"/><rect x="958.02" y="438.1" width="1.1" height="21.6" fill="#4a72f2"/><rect x="955.17" y="445.8" width="6.8" height="3.9" fill="#1845c9"/><rect x="967.79" y="425.6" width="1.1" height="38.8" fill="#4a72f2"/><rect x="964.94" y="433.7" width="6.8" height="25.1" fill="#1845c9"/><rect x="977.55" y="456.2" width="1.1" height="28.2" fill="#4a72f2"/><rect x="974.70" y="463.5" width="6.8" height="4.2" fill="#1845c9"/><rect x="987.31" y="452.5" width="1.1" height="35.7" fill="#4a5ca4"/><rect x="984.96" y="461.5" width="5.8" height="13.5" fill="#fff" stroke="#5078f7" stroke-width="1"/><rect x="997.08" y="449.3" width="1.1" height="16.4" fill="#4a72f2"/><rect x="994.23" y="456.2" width="6.8" height="5.6" fill="#1845c9"/><rect x="1006.84" y="454.2" width="1.1" height="30.6" fill="#4a72f2"/><rect x="1003.99" y="461.8" width="6.8" height="13.1" fill="#1845c9"/><rect x="1016.61" y="445.0" width="1.1" height="29.7" fill="#4a5ca4"/><rect x="1014.26" y="459.3" width="5.8" height="8.9" fill="#fff" stroke="#5078f7" stroke-width="1"/><rect x="1026.37" y="436.3" width="1.1" height="43.3" fill="#4a72f2"/><rect x="1023.52" y="456.2" width="6.8" height="17.3" fill="#1845c9"/><rect x="1036.13" y="463.1" width="1.1" height="18.7" fill="#4a72f2"/><rect x="1033.28" y="474.4" width="6.8" height="3.5" fill="#1845c9"/><rect x="1045.90" y="442.4" width="1.1" height="51.9" fill="#4a5ca4"/><rect x="1043.55" y="464.9" width="5.8" height="26.3" fill="#fff" stroke="#5078f7" stroke-width="1"/><rect x="1055.66" y="451.6" width="1.1" height="5.0" fill="#4a72f2"/><rect x="1052.81" y="454.2" width="6.8" height="2.4" fill="#1845c9"/><line x1="908.7" y1="412.6" x2="1075.8" y2="444.9" stroke="#2b5ef5" stroke-width="2.7" stroke-linecap="round"/><line x1="928.4" y1="482.7" x2="1066" y2="493.8" stroke="#2b5ef5" stroke-width="2.7" stroke-linecap="round"/></g>
<rect x="1406" y="294" width="44" height="23" fill="#1c1c1c"/><text x="1414.03" y="310.10" font-size="12.5" font-weight="bold" fill="#fff" textLength="33.16" lengthAdjust="spacingAndGlyphs">72.99</text><rect x="1406" y="404" width="44" height="19" fill="#2b5ef5"/><text x="1414.12" y="418.10" font-size="12.5" font-weight="bold" fill="#fff" textLength="33.13" lengthAdjust="spacingAndGlyphs">67.30</text><rect x="1406" y="428" width="44" height="19" fill="#2b5ef5"/><text x="1414.12" y="442.10" font-size="12.5" font-weight="bold" fill="#fff" textLength="33.06" lengthAdjust="spacingAndGlyphs">65.63</text><rect x="1406" y="447" width="44" height="19" fill="#1c4bd0"/><text x="1414.12" y="461.10" font-size="12.5" font-weight="bold" fill="#fff" textLength="32.65" lengthAdjust="spacingAndGlyphs">65.04</text><rect x="1406" y="474" width="44" height="19" fill="#2b5ef5"/><text x="1414.12" y="488.10" font-size="12.5" font-weight="bold" fill="#fff" textLength="32.65" lengthAdjust="spacingAndGlyphs">63.64</text><rect x="1406" y="493" width="44" height="19" fill="#2b5ef5"/><text x="1414.11" y="507.10" font-size="12.5" font-weight="bold" fill="#fff" textLength="33.17" lengthAdjust="spacingAndGlyphs">63.07</text><line x1="1401.5" y1="258.1" x2="1405" y2="258.1" stroke="#d4a4a4" stroke-width="1"/><line x1="1401.5" y1="298.4" x2="1405" y2="298.4" stroke="#d4a4a4" stroke-width="1"/><line x1="1401.5" y1="322.9" x2="1405" y2="322.9" stroke="#d4a4a4" stroke-width="1"/><line x1="1401.5" y1="363.3" x2="1405" y2="363.3" stroke="#d4a4a4" stroke-width="1"/><line x1="1401.5" y1="396.3" x2="1405" y2="396.3" stroke="#d4a4a4" stroke-width="1"/><line x1="1401.5" y1="429.0" x2="1405" y2="429.0" stroke="#d4a4a4" stroke-width="1"/><line x1="1401.5" y1="469.2" x2="1405" y2="469.2" stroke="#d4a4a4" stroke-width="1"/><line x1="1401.5" y1="496.9" x2="1405" y2="496.9" stroke="#d4a4a4" stroke-width="1"/><line x1="1401.5" y1="534.4" x2="1405" y2="534.4" stroke="#d4a4a4" stroke-width="1"/><line x1="1401.5" y1="574.8" x2="1405" y2="574.8" stroke="#d4a4a4" stroke-width="1"/><line x1="1401.5" y1="599.8" x2="1405" y2="599.8" stroke="#d4a4a4" stroke-width="1"/><line x1="1401.5" y1="640.5" x2="1405" y2="640.5" stroke="#d4a4a4" stroke-width="1"/><path d="M888.7 664.5H969.4V687.5Q969.4 689.7 967.2 689.7H890.9Q888.7 689.7 888.7 687.5Z" fill="#161616"/><text x="898.80" y="682.95" font-size="13.3" fill="#fff" textLength="60.78" lengthAdjust="spacingAndGlyphs" stroke="#fff" stroke-width="0.5" stroke-linejoin="round">15 May '25</text><path d="M1438.00 679.50 L1434.85 684.96 L1428.55 684.96 L1425.40 679.50 L1428.55 674.04 L1434.85 674.04Z" fill="none" stroke="#333" stroke-width="1.2"/><circle cx="1431.7" cy="679.5" r="2" fill="none" stroke="#333" stroke-width="1.2"/>
<text x="1321.78" y="669.80" font-size="31" fill="rgba(150,105,70,0.55)" textLength="17.25" lengthAdjust="spacingAndGlyphs">F</text><text x="1342.86" y="669.80" font-size="31" fill="rgba(150,105,70,0.55)" textLength="19.04" lengthAdjust="spacingAndGlyphs">X</text><text x="1365.21" y="669.80" font-size="31" fill="rgba(150,105,70,0.55)" textLength="16.27" lengthAdjust="spacingAndGlyphs">6</text><text x="1384.99" y="669.80" font-size="31" fill="rgba(150,105,70,0.55)" textLength="16.39" lengthAdjust="spacingAndGlyphs">7</text><text x="1404.23" y="669.80" font-size="31" fill="rgba(150,105,70,0.55)" textLength="16.24" lengthAdjust="spacingAndGlyphs">8</text><text x="1320.88" y="668.90" font-size="31" fill="rgb(218,236,252)" textLength="17.25" lengthAdjust="spacingAndGlyphs">F</text><text x="1341.96" y="668.90" font-size="31" fill="rgb(218,236,252)" textLength="19.04" lengthAdjust="spacingAndGlyphs">X</text><text x="1364.31" y="668.90" font-size="31" fill="rgb(218,236,252)" textLength="16.27" lengthAdjust="spacingAndGlyphs">6</text><text x="1384.09" y="668.90" font-size="31" fill="rgb(218,236,252)" textLength="16.39" lengthAdjust="spacingAndGlyphs">7</text><text x="1403.33" y="668.90" font-size="31" fill="rgb(218,236,252)" textLength="16.24" lengthAdjust="spacingAndGlyphs">8</text>
</svg>
</body></html>
